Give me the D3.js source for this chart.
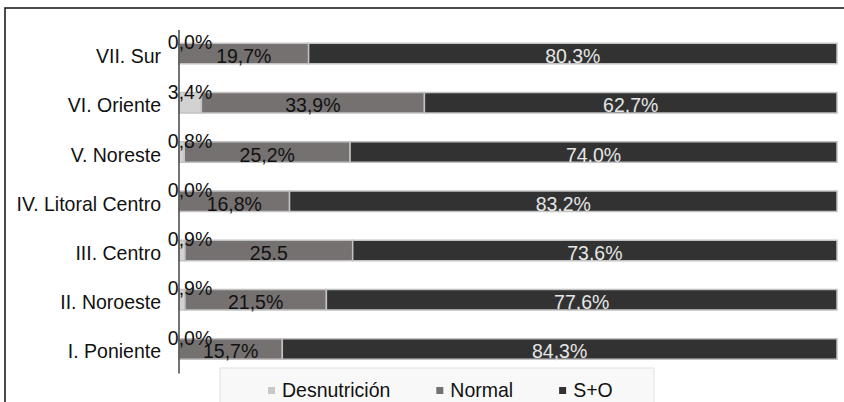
<!DOCTYPE html>
<html>
<head>
<meta charset="utf-8">
<script src="https://cdn.jsdelivr.net/npm/d3@7"></script>
<style>
    body { margin: 0; background: #fff; }
    text { font-family: "Liberation Sans", Arial, sans-serif; }
</style>
</head>
<body>
<div id="chart"></div>
<script>
// regiones, de arriba hacia abajo
const regions = ['VII. Sur', 'VI. Oriente', 'V. Noreste', 'IV. Litoral Centro', 'III. Centro', 'II. Noroeste', 'I. Poniente'];
const desnutricion = [0.0, 3.4, 0.8, 0.0, 0.9, 0.9, 0.0];
const normal = [19.7, 33.9, 25.2, 16.8, 25.5, 21.5, 15.7];
const sobrepeso = [80.3, 62.7, 74.0, 83.2, 73.6, 77.6, 84.3];
// etiquetas tal como aparecen (III. Centro viene con punto)
const desnutricionLabels = ['0,0%', '3,4%', '0,8%', '0,0%', '0,9%', '0,9%', '0,0%'];
const normalLabels = ['19,7%', '33,9%', '25,2%', '16,8%', '25.5', '21,5%', '15,7%'];
const sobrepesoLabels = ['80,3%', '62,7%', '74,0%', '83,2%', '73,6%', '77,6%', '84,3%'];
const seriesNames = ['Desnutrición', 'Normal', 'S+O'];

const width = 844;
const height = 402;
const colors = ['#d2d2d2', '#767171', '#323232'];
const swatchColors = ['#c8c8c8', '#767171', '#323232'];
const FONT_SIZE = '19.5px';
const TEXT_STRETCH = 1.08; // la imagen original viene un poco estirada en vertical

const svg = d3.select('#chart')
    .append('svg')
    .attr('width', width)
    .attr('height', height);

// texto estirado: se posiciona con transform en vez de x/y
function place(sel, fx, fy) {
    sel.attr('transform', (d, i) => 'translate(' + fx(d, i) + ',' + fy(d, i) + ') scale(1,' + TEXT_STRETCH + ')');
}

// marco del grafico (derecha y abajo quedan fuera)
svg.append('rect')
    .attr('x', 5)
    .attr('y', 8)
    .attr('width', width + 10)
    .attr('height', height + 10)
    .attr('fill', 'none')
    .attr('stroke', '#111')
    .attr('stroke-width', 1.5);

const x = d3.scaleLinear()
    .domain([0, 100])
    .range([179, 837]);

const y = d3.scaleBand()
    .domain(regions)
    .range([28.9, 373.6])
    .paddingInner(0.584)
    .paddingOuter(0.292);

// apilar las tres series
const rows = regions.map(function(name, i) {
    return {
        region: name,
        'Desnutrición': desnutricion[i],
        'Normal': normal[i],
        'S+O': sobrepeso[i]
    };
});
const stacked = d3.stack().keys(seriesNames)(rows);

svg.append('g')
    .selectAll('g')
    .data(stacked)
    .enter()
    .append('g')
    .attr('fill', (d, i) => colors[i])
    .selectAll('rect')
    .data(d => d)
    .enter()
    .append('rect')
    .attr('x', d => x(d[0]))
    .attr('y', d => y(d.data.region))
    .attr('width', d => x(d[1]) - x(d[0]))
    .attr('height', y.bandwidth())
    .attr('stroke', '#c2c2c2')
    .attr('stroke-width', 1.5);

// eje vertical
svg.append('line')
    .attr('x1', x(0))
    .attr('x2', x(0))
    .attr('y1', y.range()[0] + 1)
    .attr('y2', y.range()[1])
    .attr('stroke', '#444')
    .attr('stroke-width', 1.5);

const mid = name => y(name) + y.bandwidth() / 2;

// nombres de regiones
svg.append('g')
    .selectAll('text')
    .data(regions)
    .enter()
    .append('text')
    .call(place, () => 161, d => mid(d) + 9.5)
    .attr('text-anchor', 'end')
    .attr('font-size', FONT_SIZE)
    .attr('fill', '#111')
    .text(d => d);

// etiquetas desnutricion (arriba a la izquierda de la barra)
svg.append('g')
    .selectAll('text')
    .data(regions)
    .enter()
    .append('text')
    .call(place, () => x(0) + 11, d => y(d) + 6)
    .attr('text-anchor', 'middle')
    .attr('font-size', FONT_SIZE)
    .attr('fill', '#111')
    .text((d, i) => desnutricionLabels[i]);

// etiquetas normal
svg.append('g')
    .selectAll('text')
    .data(stacked[1])
    .enter()
    .append('text')
    .call(place, d => (x(d[0]) + x(d[1])) / 2, d => mid(d.data.region) + 9.5)
    .attr('text-anchor', 'middle')
    .attr('font-size', FONT_SIZE)
    .attr('fill', '#111')
    .text((d, i) => normalLabels[i]);

// etiquetas S+O
svg.append('g')
    .selectAll('text')
    .data(stacked[2])
    .enter()
    .append('text')
    .call(place, d => (x(d[0]) + x(d[1])) / 2, d => mid(d.data.region) + 9.5)
    .attr('text-anchor', 'middle')
    .attr('font-size', FONT_SIZE)
    .attr('fill', '#e6e6e6')
    .text((d, i) => sobrepesoLabels[i]);

// leyenda
const legend = svg.append('g');
legend.append('rect')
    .attr('x', 220)
    .attr('y', 368)
    .attr('width', 434)
    .attr('height', 50)
    .attr('fill', '#f8f8f8')
    .attr('stroke', '#e2e2e2');

var cursor = 268;
seriesNames.forEach(function(name, i) {
    legend.append('rect')
        .attr('x', cursor)
        .attr('y', 387)
        .attr('width', 7)
        .attr('height', 7)
        .attr('fill', swatchColors[i]);
    const label = legend.append('text')
        .attr('transform', 'translate(' + (cursor + 14) + ',397) scale(1,' + TEXT_STRETCH + ')')
        .attr('font-size', FONT_SIZE)
        .attr('fill', '#111')
        .text(name);
    cursor += 14 + label.node().getComputedTextLength() + 46;
});
</script>
</body>
</html>
